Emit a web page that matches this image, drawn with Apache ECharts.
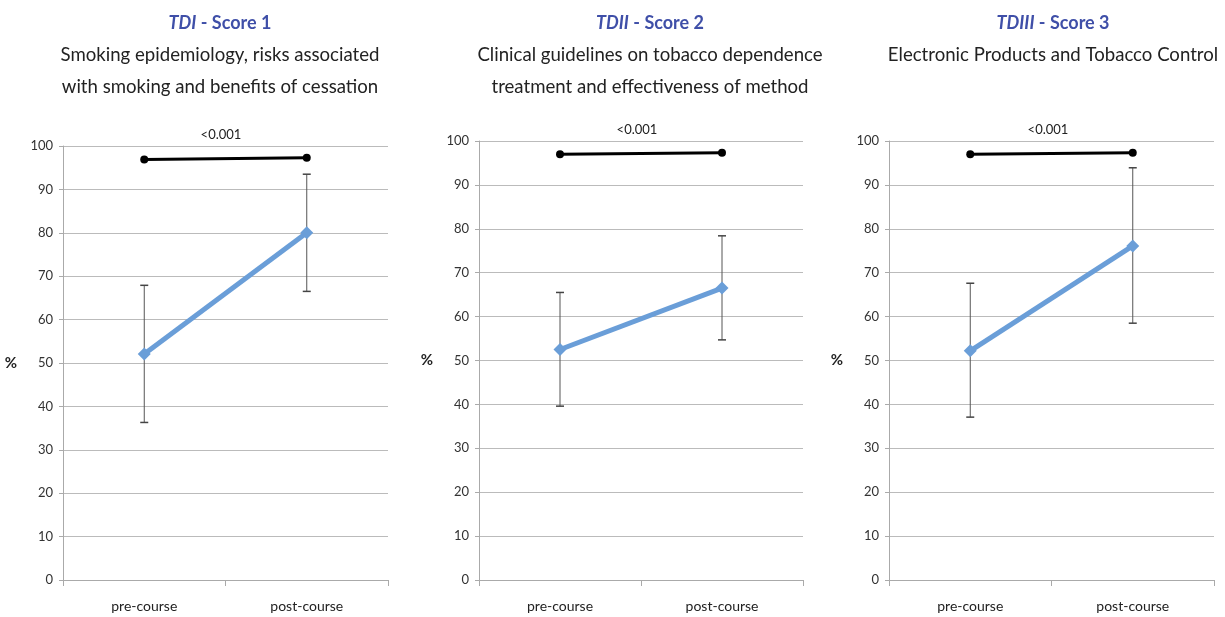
<!DOCTYPE html>
<html>
<head>
<meta charset="utf-8">
<script src="https://cdn.jsdelivr.net/npm/echarts@6/dist/echarts.min.js"></script>
<style>
html,body{margin:0;padding:0;background:#fff;}
#chart{width:1225px;height:617px;}
</style>
</head>
<body>
<div id="chart"></div>
<script>
// ---- data ----
const categories = ['pre-course', 'post-course'];
const panelCodes = ['TDI', 'TDII', 'TDIII'];
const panelScores = [' - Score 1', ' - Score 2', ' - Score 3'];
const panelSubtitles = [
  'Smoking epidemiology, risks associated\nwith smoking and benefits of cessation',
  'Clinical guidelines on tobacco dependence\ntreatment and effectiveness of method',
  'Electronic Products and Tobacco Control'
];
const meanValues = [
  [52.1, 80.0],
  [52.5, 66.5],
  [52.2, 76.1]
];
const errorLow = [
  [36.3, 66.5],
  [39.6, 54.7],
  [37.1, 58.5]
];
const errorHigh = [
  [67.9, 93.5],
  [65.5, 78.4],
  [67.6, 93.9]
];
const sigBarValues = [
  [96.9, 97.3],
  [97.0, 97.3],
  [97.0, 97.3]
];
const sigLabel = '<0.001';
const yTicks = { min: 0, max: 100, interval: 10 };

// ---- layout ----
const grids = [
  { left: 63, top: 146, width: 325, height: 434 },
  { left: 479, top: 141, width: 324, height: 439 },
  { left: 889, top: 141, width: 325, height: 439 }
];
const titleCenters = [215, 645, 1048];
const sigCenters = [216, 632, 1043];
const FONT = 'Lato, "Open Sans", sans-serif';

const option = {
  backgroundColor: '#fff',
  animation: false,
  title: [],
  grid: grids,
  xAxis: [],
  yAxis: [],
  series: []
};

grids.forEach((g, i) => {
  option.title.push({
    text: '{it|' + panelCodes[i] + '}{b|' + panelScores[i] + '}',
    left: titleCenters[i], top: 9, textAlign: 'center',
    textStyle: {
      rich: {
        it: { fontFamily: FONT, fontSize: 18, fontWeight: 'bold', fontStyle: 'italic', color: '#3F4FA8' },
        b: { fontFamily: FONT, fontSize: 18, fontWeight: 'bold', color: '#3F4FA8' }
      }
    }
  });
  option.title.push({
    text: panelSubtitles[i],
    left: titleCenters[i], top: 34, textAlign: 'center',
    textStyle: { fontFamily: FONT, fontSize: 18.6, fontWeight: 'normal', color: '#222', lineHeight: 32 }
  });
  option.title.push({
    text: sigLabel,
    left: sigCenters[i], top: g.top - 23, textAlign: 'center',
    textStyle: { fontFamily: FONT, fontSize: 13, fontWeight: 'normal', color: '#222' }
  });

  option.xAxis.push({
    type: 'category', gridIndex: i, data: categories, boundaryGap: true,
    axisLine: { show: true, lineStyle: { color: '#aaa', width: 1 } },
    axisTick: { show: true, length: 6, interval: 0, lineStyle: { color: '#aaa' } },
    axisLabel: { fontFamily: FONT, fontSize: 14, color: '#222', margin: 19 },
    splitLine: { show: false }
  });
  option.yAxis.push({
    type: 'value', gridIndex: i, min: yTicks.min, max: yTicks.max, interval: yTicks.interval,
    name: '%', nameLocation: 'middle', nameRotate: 0, nameGap: 46,
    nameTextStyle: { fontFamily: FONT, fontSize: 15, fontWeight: 'bold', color: '#222' },
    axisLine: { show: true, lineStyle: { color: '#aaa', width: 1 } },
    axisTick: { show: true, length: 4, lineStyle: { color: '#aaa' } },
    axisLabel: { fontFamily: FONT, fontSize: 13, color: '#333', margin: 10 },
    splitLine: { show: true, lineStyle: { color: '#bbb', width: 1 } }
  });

  // error bars
  option.series.push({
    type: 'custom', xAxisIndex: i, yAxisIndex: i, z: 2,
    data: categories.map((c, k) => [k, errorLow[i][k], errorHigh[i][k]]),
    renderItem: function (params, api) {
      const x = api.value(0);
      const lo = api.coord([x, api.value(1)]);
      const hi = api.coord([x, api.value(2)]);
      const hw = 4;
      const st = { stroke: '#555', lineWidth: 1 };
      return {
        type: 'group',
        children: [
          { type: 'line', shape: { x1: lo[0], y1: lo[1], x2: hi[0], y2: hi[1] }, style: st },
          { type: 'line', shape: { x1: lo[0] - hw, y1: lo[1], x2: lo[0] + hw, y2: lo[1] }, style: { stroke: '#444', lineWidth: 1.5 } },
          { type: 'line', shape: { x1: hi[0] - hw, y1: hi[1], x2: hi[0] + hw, y2: hi[1] }, style: { stroke: '#444', lineWidth: 1.5 } }
        ]
      };
    }
  });
  // mean line
  option.series.push({
    type: 'line', xAxisIndex: i, yAxisIndex: i, z: 3,
    data: meanValues[i],
    symbol: 'diamond', symbolSize: 13,
    lineStyle: { color: '#6A9ED8', width: 5 },
    itemStyle: { color: '#6A9ED8' }
  });
  // significance bar
  option.series.push({
    type: 'line', xAxisIndex: i, yAxisIndex: i, z: 4,
    data: sigBarValues[i],
    symbol: 'circle', symbolSize: 8,
    lineStyle: { color: '#000', width: 3 },
    itemStyle: { color: '#000' }
  });
});

const chart = echarts.init(document.getElementById('chart'), null, { renderer: 'canvas' });
chart.setOption(option);
</script>
</body>
</html>
